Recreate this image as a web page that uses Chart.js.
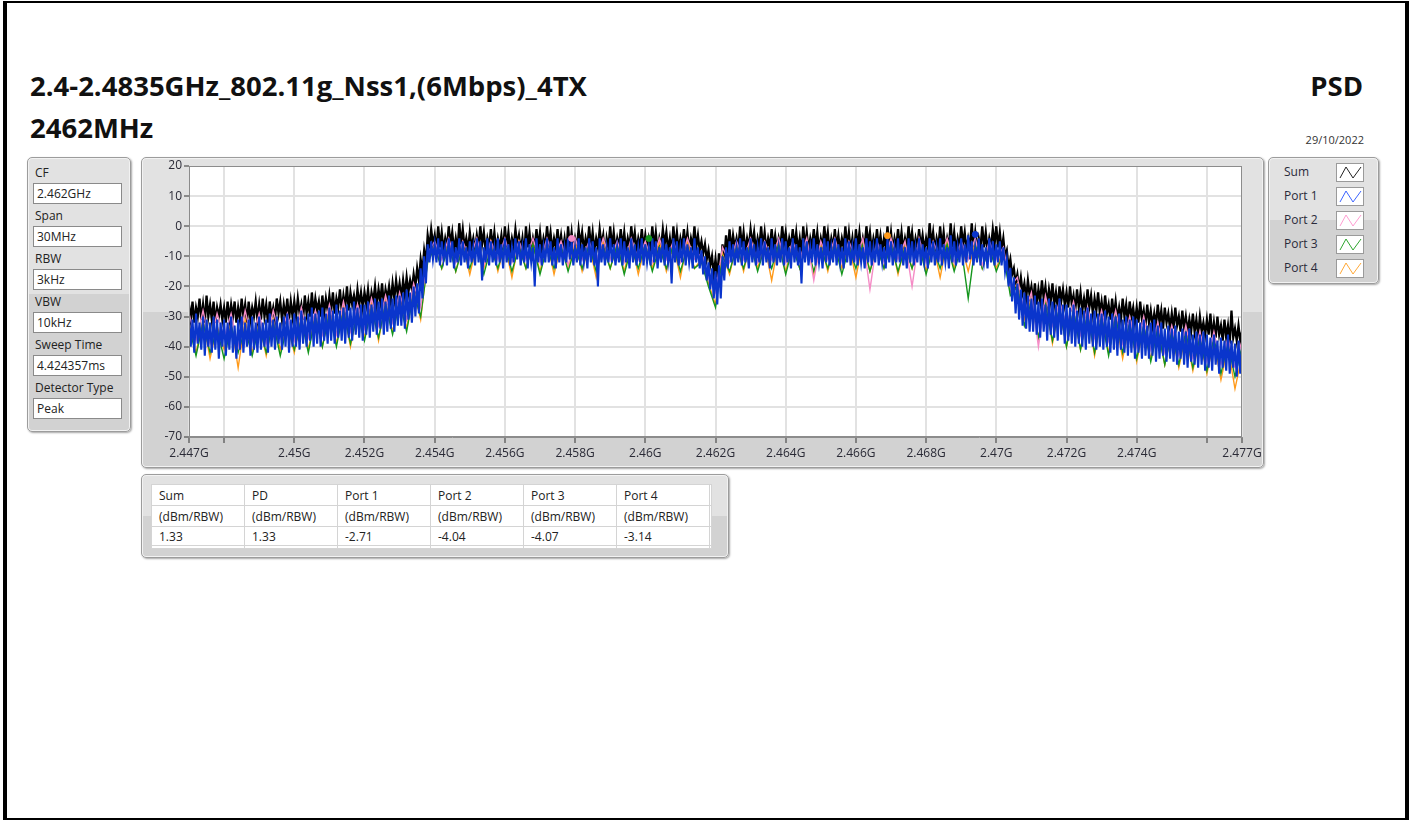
<!DOCTYPE html>
<html>
<head>
<meta charset="utf-8">
<script src="https://cdn.jsdelivr.net/npm/chart.js@4.4.0/dist/chart.umd.min.js"></script>
<style>
  html, body { margin: 0; padding: 0; background: #fff; }
  body { width: 1415px; height: 822px; position: relative; overflow: hidden;
         font-family: "Segoe UI", "Open Sans", "Noto Sans", sans-serif; color: #222; }
  .frame { position: absolute; left: 3px; top: 1px; width: 1406px; height: 819px;
           border-left: 4px solid #000; border-right: 4px solid #000;
           border-top: 2px solid #000; border-bottom: 2px solid #000; box-sizing: border-box; }
  .title { position: absolute; font-weight: bold; font-size: 27.5px; color: #111; white-space: nowrap; }
  .date { position: absolute; font-size: 11px; color: #333; }
  .panel { position: absolute; border: 1px solid #9c9c9c; border-radius: 5px;
           background: linear-gradient(#e2e2e2 0 50%, #d2d2d2 50% 100%);
           box-shadow: inset 0 0 0 1px #f2f2f2, 1px 1px 2px rgba(0,0,0,0.35); box-sizing: border-box; }
  .plabel { position: absolute; left: 7px; font-size: 12px; color: #222; height: 18px; line-height: 18px; }
  .pbox { position: absolute; left: 5px; width: 89px; height: 21px; background: #fff;
          border: 1px solid #8a8a8a; box-sizing: border-box; font-size: 12px; line-height: 19px;
          padding-left: 3px; color: #222; }
  .litem { position: absolute; left: 15px; font-size: 12px; color: #2a2a3a; height: 20px; line-height: 20px; }
  .licon { position: absolute; left: 67px; width: 28px; height: 19px; background: #fff;
           border: 1px solid #9a9a9a; box-sizing: border-box; }
  table { position: absolute; left: 9px; top: 9px; border-collapse: collapse; background: #fff;
          font-size: 12px; color: #222; border: 1px solid #a0a0a0; }
  td { border: 1px solid #d4d4d4; width: 85px; height: 20px; padding: 0 0 0 7px; white-space: nowrap; }
  tr.vals td { height: 18px; }
  td.pad { width: 1px; padding: 0; }
  #chartCanvas { position: absolute; left: 141px; top: 157px; }
</style>
</head>
<body>
<div class="frame"></div>
<div class="title" style="left:30px; top:67px;">2.4-2.4835GHz_802.11g_Nss1,(6Mbps)_4TX</div>
<div class="title" style="left:30px; top:109px;">2462MHz</div>
<div class="title" style="right:52px; top:67px;">PSD</div>
<div class="date" style="right:51px; top:132px;">29/10/2022</div>

<div class="panel" id="paramPanel" style="left:27px; top:157px; width:104px; height:275px;"></div>
<div class="panel" style="left:141px; top:157px; width:1123px; height:311px;"></div>
<div class="panel" id="legendPanel" style="left:1268px; top:157px; width:111px; height:127px;"></div>
<div class="panel" id="tablePanel" style="left:141px; top:474px; width:588px; height:84px;"></div>
<canvas id="chartCanvas" width="1122" height="310"></canvas>

<script>
// ---- measurement settings (left panel) ----
const paramNames = ["CF", "Span", "RBW", "VBW", "Sweep Time", "Detector Type"];
const paramValues = ["2.462GHz", "30MHz", "3kHz", "10kHz", "4.424357ms", "Peak"];

// ---- result table ----
const tableHeaders = ["Sum", "PD", "Port 1", "Port 2", "Port 3", "Port 4"];
const tableUnits = ["(dBm/RBW)", "(dBm/RBW)", "(dBm/RBW)", "(dBm/RBW)", "(dBm/RBW)", "(dBm/RBW)"];
const tableValues = ["1.33", "1.33", "-2.71", "-4.04", "-4.07", "-3.14"];

// ---- legend ----
const seriesNames = ["Sum", "Port 1", "Port 2", "Port 3", "Port 4"];
const seriesColors = ["#000000", "#0a35cc", "#f58cc6", "#14951c", "#ff9a1a"];
const legendIconColors = ["#222222", "#3c64ff", "#ff9ed2", "#2fa52f", "#ffa836"];

// ---- axes ----
const xTickValues = [2.447, 2.448, 2.450, 2.452, 2.454, 2.456, 2.458, 2.460, 2.462, 2.464, 2.466, 2.468, 2.470, 2.472, 2.474, 2.476, 2.477];
const xTickLabels = ["2.447G", "", "2.45G", "2.452G", "2.454G", "2.456G", "2.458G", "2.46G", "2.462G", "2.464G", "2.466G", "2.468G", "2.47G", "2.472G", "2.474G", "", "2.477G"];
const yMin = -70, yMax = 20, yStep = 10;

// ---- sweep grid ----
const sweepStartGHz = 2.447;
const fineStepGHz = 0.00005;   // Sum and Port 1 traces
const coarseStepGHz = 0.0002;  // Port 2..4 traces

// Sum trace, dBm/RBW (one row = 1 MHz)
const sumLevels = [
  -26,-31,-25,-32,-27,-30,-24,-31,-26,-32,-23,-30,-26,-31,-25,-32,-27,-30,-26,-31,
  -27,-32,-25,-31,-26,-30,-25,-32,-27,-31,-24,-30,-26,-32,-25,-31,-27,-30,-25,-31,
  -26,-31,-24,-30,-26,-32,-25,-30,-27,-31,-24,-29,-25,-31,-26,-30,-24,-31,-25,-30,
  -25,-30,-24,-29,-26,-31,-23,-29,-25,-30,-22,-29,-24,-28,-25,-30,-23,-29,-24,-28,
  -23,-28,-22,-29,-24,-27,-21,-28,-23,-27,-20,-28,-22,-26,-23,-27,-21,-26,-22,-27,
  -22,-26,-21,-27,-22,-25,-20,-26,-21,-25,-19,-26,-21,-24,-20,-25,-19,-24,-18,-23,
  -19,-24,-18,-23,-17,-22,-18,-21,-16,-20,-14,-18,-11,-15,-8,-12,-3,-7,-1,-6,
  -3,-8,0,-7,-2,-8,-4,-7,0,-6,-2,-8,-4,-8,1,-6,-1,-7,-4,-8,
  -2,-7,-4,-8,-3,-7,0,-6,-2,-8,-4,-7,-1,-7,-2,-8,-4,-7,-3,-8,
  0,-7,-2,-8,-4,-7,-1,-6,-3,-8,-4,-10,0,-7,-2,-8,-4,-7,-1,-7,
  -2,-8,-4,-7,0,-6,-2,-8,-4,-7,-1,-7,-3,-8,-4,-9,0,-7,-2,-8,
  -4,-7,-1,-6,-2,-8,-4,-7,0,-7,-2,-8,-4,-7,-1,-6,-3,-11,-4,-7,
  0,-7,-2,-8,-4,-7,-1,-7,-2,-8,-4,-7,0,-6,-2,-8,-4,-7,-1,-7,
  -3,-8,-4,-7,0,-7,-2,-8,-4,-7,-1,-6,-2,-8,-4,-9,0,-7,-2,-8,
  -4,-7,-1,-7,-2,-8,-4,-7,0,-7,-3,-8,-5,-9,-6,-11,-8,-13,-10,-16,
  -11,-17,-9,-15,-6,-11,-3,-9,-1,-8,-3,-7,-4,-8,0,-7,-2,-8,-4,-7,
  -1,-6,-2,-8,-4,-7,0,-7,-2,-8,-4,-7,-1,-7,-3,-8,-4,-7,0,-6,
  -2,-8,-4,-7,-1,-7,-2,-8,-4,-9,0,-7,-2,-8,-4,-7,-1,-7,-2,-8,
  -4,-7,0,-6,-2,-8,-4,-7,-1,-7,-3,-8,-4,-7,0,-7,-2,-8,-4,-10,
  -1,-7,-2,-8,-4,-7,0,-6,-2,-8,-4,-7,-1,-7,-3,-8,-4,-7,0,-7,
  -2,-8,-4,-7,-1,-7,-2,-8,-4,-7,0,-6,-2,-8,-4,-7,-1,-7,-3,-8,
  -4,-7,1,-6,-2,-8,-4,-7,0,-7,-2,-8,-4,-7,1,-7,-2,-8,-4,-7,
  0,-6,-2,-8,-4,-7,1,-7,-2,-8,-4,-7,0,-7,-2,-8,-4,-7,-1,-6,
  0,-7,-2,-8,-4,-10,-8,-14,-11,-16,-14,-19,-16,-21,-17,-22,-19,-24,-18,-23,
  -20,-25,-19,-26,-21,-25,-18,-24,-20,-26,-21,-25,-19,-26,-22,-27,-20,-25,-21,-26,
  -22,-27,-20,-26,-23,-28,-21,-27,-22,-28,-24,-28,-21,-27,-23,-29,-24,-28,-22,-29,
  -25,-30,-23,-29,-26,-31,-24,-30,-25,-31,-27,-31,-24,-30,-26,-32,-25,-30,-27,-32,
  -27,-32,-25,-31,-28,-33,-26,-32,-28,-33,-29,-33,-26,-32,-28,-34,-27,-32,-29,-34,
  -29,-34,-27,-33,-30,-35,-28,-34,-30,-35,-31,-35,-29,-35,-31,-36,-30,-35,-32,-36,
  -31,-36,-29,-37,-32,-37,-30,-36,-33,-38,-31,-37,-33,-39,-28,-37,-34,-38,-33,-38,
  -35
];

// Port 1 trace
const port1Levels = [
  -30,-40,-31,-42,-29,-39,-32,-41,-30,-43,-31,-40,-32,-42,-30,-41,-31,-44,-32,-40,
  -31,-43,-32,-41,-30,-42,-33,-44,-31,-41,-30,-42,-32,-40,-31,-43,-30,-41,-32,-42,
  -30,-41,-32,-40,-31,-42,-29,-40,-31,-41,-30,-39,-32,-41,-30,-40,-29,-42,-31,-40,
  -29,-40,-30,-41,-28,-39,-30,-40,-29,-38,-27,-40,-29,-39,-28,-40,-27,-38,-29,-39,
  -27,-38,-28,-39,-26,-37,-28,-38,-27,-39,-26,-37,-27,-38,-25,-36,-27,-37,-26,-38,
  -26,-36,-25,-37,-26,-35,-24,-36,-25,-34,-24,-36,-25,-35,-23,-34,-24,-35,-23,-33,
  -23,-33,-22,-34,-21,-31,-22,-32,-20,-30,-19,-29,-14,-24,-10,-19,-6,-12,-5,-11,
  -6,-12,-4,-13,-5,-11,-7,-13,-4,-12,-5,-14,-7,-12,-4,-13,-5,-12,-7,-14,
  -5,-12,-7,-13,-4,-12,-5,-18,-7,-12,-4,-13,-5,-12,-7,-13,-4,-12,-6,-14,
  -4,-12,-6,-13,-7,-12,-4,-11,-5,-13,-7,-12,-4,-14,-6,-12,-7,-20,-4,-12,
  -6,-13,-7,-12,-4,-12,-5,-13,-7,-14,-4,-12,-6,-13,-7,-12,-4,-11,-5,-13,
  -7,-12,-4,-13,-6,-12,-7,-14,-4,-12,-5,-13,-7,-20,-4,-12,-6,-13,-7,-12,
  -4,-12,-6,-13,-7,-12,-4,-13,-5,-12,-7,-14,-4,-12,-6,-13,-7,-12,-4,-13,
  -6,-12,-7,-13,-4,-12,-5,-14,-7,-12,-4,-13,-6,-12,-7,-19,-4,-12,-5,-13,
  -7,-12,-4,-13,-6,-12,-7,-14,-4,-12,-7,-14,-8,-16,-10,-18,-12,-21,-14,-24,
  -15,-26,-13,-24,-10,-18,-7,-14,-5,-12,-6,-13,-7,-12,-4,-13,-5,-12,-7,-14,
  -4,-12,-6,-13,-7,-12,-4,-13,-5,-12,-7,-14,-4,-12,-6,-13,-7,-12,-4,-13,
  -5,-12,-7,-14,-4,-12,-6,-13,-7,-19,-4,-12,-5,-13,-7,-12,-4,-13,-6,-12,
  -7,-14,-4,-12,-5,-13,-7,-12,-4,-13,-6,-12,-7,-14,-4,-12,-5,-13,-7,-12,
  -4,-13,-6,-12,-7,-14,-4,-12,-5,-13,-7,-12,-4,-13,-6,-12,-7,-14,-4,-12,
  -5,-13,-7,-12,-4,-12,-6,-13,-7,-14,-4,-12,-5,-13,-7,-12,-4,-13,-6,-12,
  -7,-14,-4,-12,-5,-13,-7,-12,-4,-13,-6,-12,-7,-14,-3,-12,-5,-13,-7,-12,
  -4,-13,-6,-12,-3,-11,-5,-13,-7,-12,-4,-13,-6,-12,-7,-14,-4,-12,-5,-13,
  -6,-12,-5,-13,-7,-15,-11,-20,-14,-25,-17,-29,-19,-31,-21,-33,-22,-34,-23,-35,
  -24,-35,-23,-36,-25,-37,-24,-35,-26,-38,-24,-36,-25,-37,-26,-38,-24,-36,-26,-39,
  -26,-38,-27,-39,-26,-40,-28,-39,-27,-40,-28,-41,-27,-39,-29,-40,-28,-41,-29,-40,
  -29,-41,-28,-40,-30,-42,-29,-41,-30,-43,-29,-41,-31,-42,-30,-43,-31,-42,-30,-44,
  -31,-42,-32,-44,-31,-43,-33,-44,-32,-43,-31,-45,-33,-44,-32,-43,-34,-45,-33,-44,
  -34,-45,-33,-46,-35,-44,-34,-46,-35,-47,-34,-45,-36,-46,-35,-47,-36,-46,-35,-48,
  -36,-47,-37,-48,-36,-46,-38,-49,-37,-47,-38,-48,-36,-49,-38,-47,-39,-50,-38,-49,
  -40
];

// Port 2..4 traces (one row = 1 MHz)
const port2Levels = [
  -29,-38,-28,-39,-29, -37,-29,-40,-28,-38, -29,-39,-28,-37,-29, -38,-27,-37,-28,-36,
  -26,-36,-25,-35,-26, -34,-24,-33,-23,-32, -22,-31,-19,-27,-9,  -5,-11,-4,-12,-5,
  -11,-4,-13,-5,-11,   -4,-12,-5,-11,-4,    -12,-4,-11,-5,-13,   -4,-11,-5,-12,-4,
  -11,-5,-12,-4,-11,   -5,-12,-4,-11,-5,    -12,-4,-11,-9,-17,   -22,-7,-12,-5,-11,
  -4,-12,-5,-11,-4,    -12,-5,-11,-4,-18,   -5,-11,-4,-12,-5,    -11,-4,-21,-5,-12,
  -4,-11,-5,-20,-4,    -12,-5,-11,-4,-12,   -5,-11,-4,-13,-5,    -11,-7,-20,-17,-29,
  -22,-40,-23,-33,-25, -33,-25,-36,-27,-37, -28,-38,-28,-39,-30, -40,-30,-41,-32,-42,
  -33,-43,-33,-44,-35, -45,-35,-46,-37,-47, -38
];
const port3Levels = [
  -33,-43,-32,-42,-34, -44,-33,-42,-34,-43, -33,-42,-32,-43,-33, -41,-31,-42,-30,-40,
  -29,-40,-28,-39,-29, -38,-27,-37,-26,-36, -25,-35,-22,-30,-12, -7,-14,-6,-15,-7,
  -14,-6,-16,-7,-14,   -6,-15,-7,-14,-6,    -16,-7,-14,-6,-15,   -7,-14,-6,-15,-7,
  -14,-6,-16,-7,-14,   -6,-15,-7,-14,-6,    -15,-7,-14,-12,-20,  -27,-10,-15,-7,-14,
  -6,-15,-7,-14,-6,    -16,-7,-14,-6,-15,   -7,-14,-6,-16,-7,    -14,-6,-15,-7,-14,
  -6,-15,-7,-14,-6,    -16,-7,-14,-6,-15,   -7,-24,-6,-14,-7,    -15,-9,-23,-20,-33,
  -25,-37,-26,-38,-27, -40,-28,-41,-29,-42, -30,-43,-30,-42,-32, -44,-33,-45,-34,-46,
  -35,-46,-35,-47,-37, -48,-37,-49,-39,-50, -40
];
const port4Levels = [
  -32,-42,-31,-44,-33, -41,-32,-47,-31,-42, -32,-43,-31,-41,-33, -42,-30,-41,-29,-40,
  -28,-39,-27,-40,-28, -37,-26,-38,-25,-35, -24,-34,-21,-31,-11, -6,-14,-5,-15,-6,
  -16,-6,-14,-5,-15,   -6,-17,-5,-14,-6,    -15,-5,-16,-6,-14,   -5,-15,-6,-17,-5,
  -14,-6,-15,-5,-16,   -6,-14,-5,-15,-6,    -17,-5,-14,-11,-19,  -26,-9,-16,-6,-15,
  -5,-14,-6,-18,-5,    -15,-6,-14,-5,-16,   -6,-15,-5,-14,-6,    -17,-5,-15,-6,-14,
  -5,-16,-6,-14,-5,    -15,-6,-17,-5,-14,   -6,-15,-5,-14,-6,    -14,-8,-22,-19,-31,
  -24,-37,-25,-39,-27, -40,-28,-41,-29,-43, -30,-42,-31,-44,-32, -45,-33,-44,-34,-46,
  -35,-47,-36,-48,-37, -49,-38,-51,-40,-54, -43
];

// peak markers of ports 2,3,1,4
const markerFreqs = [2.4579, 2.4601, 2.4694, 2.4669];
const markerLevels = [-4.04, -4.07, -2.71, -3.14];
const markerColors = ["#f58cc6", "#14951c", "#0a35cc", "#ff9a1a"];

// ---------- build page widgets ----------
const paramPanel = document.getElementById("paramPanel");
for (let i = 0; i < paramNames.length; i++) {
  const lab = document.createElement("div");
  lab.className = "plabel";
  lab.style.top = (6 + i * 43) + "px";
  lab.textContent = paramNames[i];
  paramPanel.appendChild(lab);
  const box = document.createElement("div");
  box.className = "pbox";
  box.style.top = (25 + i * 43) + "px";
  box.textContent = paramValues[i];
  paramPanel.appendChild(box);
}

const legendPanel = document.getElementById("legendPanel");
for (let i = 0; i < seriesNames.length; i++) {
  const lab = document.createElement("div");
  lab.className = "litem";
  lab.style.top = (4 + i * 24) + "px";
  lab.textContent = seriesNames[i];
  legendPanel.appendChild(lab);
  const icon = document.createElement("div");
  icon.className = "licon";
  icon.style.top = (5 + i * 24) + "px";
  icon.innerHTML = '<svg width="26" height="17"><polyline points="3,14 9,3 16,14 24,3" fill="none" stroke="' +
    legendIconColors[i] + '" stroke-width="1"/></svg>';
  legendPanel.appendChild(icon);
}

const tablePanel = document.getElementById("tablePanel");
const table = document.createElement("table");
[tableHeaders, tableUnits, tableValues].forEach((row, r) => {
  const tr = document.createElement("tr");
  if (r === 2) tr.className = "vals";
  row.forEach((txt) => {
    const td = document.createElement("td");
    td.textContent = txt;
    tr.appendChild(td);
  });
  const pad = document.createElement("td");
  pad.className = "pad";
  tr.appendChild(pad);
  table.appendChild(tr);
});
const lastRow = document.createElement("tr");
for (let i = 0; i < 7; i++) {
  const td = document.createElement("td");
  td.style.height = "2px";
  if (i === 6) td.className = "pad";
  lastRow.appendChild(td);
}
table.appendChild(lastRow);
tablePanel.appendChild(table);

// ---------- chart ----------
function toPoints(levels, step) {
  return levels.map((v, i) => ({ x: sweepStartGHz + i * step, y: v }));
}

const plotBackground = {
  id: "plotBackground",
  beforeDraw(chart) {
    const a = chart.chartArea;
    chart.ctx.save();
    chart.ctx.fillStyle = "#ffffff";
    chart.ctx.fillRect(a.left, a.top, a.right - a.left, a.bottom - a.top);
    chart.ctx.restore();
  },
  afterDraw(chart) {
    const a = chart.chartArea;
    chart.ctx.save();
    chart.ctx.strokeStyle = "#8c8c8c";
    chart.ctx.lineWidth = 1;
    chart.ctx.strokeRect(a.left + 0.5, a.top + 0.5, a.right - a.left - 1, a.bottom - a.top - 1);
    chart.ctx.restore();
  }
};

const traceSets = [
  { levels: sumLevels, step: fineStepGHz, width: 2.3, order: 5 },
  { levels: port1Levels, step: fineStepGHz, width: 2.1, order: 1 },
  { levels: port2Levels, step: coarseStepGHz, width: 1.4, order: 2 },
  { levels: port3Levels, step: coarseStepGHz, width: 1.4, order: 3 },
  { levels: port4Levels, step: coarseStepGHz, width: 1.4, order: 4 }
];

const datasets = traceSets.map((t, i) => ({
  label: seriesNames[i],
  data: toPoints(t.levels, t.step),
  borderColor: seriesColors[i],
  borderWidth: t.width,
  pointRadius: 0,
  tension: 0,
  order: t.order
}));

datasets.push({
  label: "markers",
  type: "scatter",
  data: markerFreqs.map((f, i) => ({ x: f, y: markerLevels[i] })),
  pointBackgroundColor: markerColors,
  pointBorderColor: markerColors,
  pointRadius: 3,
  showLine: false,
  order: 0
});

const tickFont = { family: '"Segoe UI", "Open Sans", "Noto Sans", sans-serif', size: 12 };

new Chart(document.getElementById("chartCanvas").getContext("2d"), {
  type: "line",
  data: { datasets: datasets },
  options: {
    responsive: false,
    animation: false,
    events: [],
    parsing: false,
    layout: { padding: { top: 9, right: 21, left: 0, bottom: 0 } },
    plugins: { legend: { display: false }, tooltip: { enabled: false } },
    scales: {
      x: {
        type: "linear",
        min: xTickValues[0],
        max: xTickValues[xTickValues.length - 1],
        afterBuildTicks: (scale) => {
          scale.ticks = xTickValues.map((v) => ({ value: v }));
        },
        afterFit: (scale) => {
          scale.height = 30;
          scale.paddingLeft = 0;
          scale.paddingRight = 0;
        },
        ticks: {
          autoSkip: false,
          maxRotation: 0,
          padding: 3,
          color: "#2a2a36",
          font: tickFont,
          callback: (value, index) => xTickLabels[index]
        },
        grid: { color: "#e2e2e2", lineWidth: 2, tickColor: "#333", tickLength: 6, tickWidth: 1 },
        border: { display: true, color: "#8c8c8c" }
      },
      y: {
        min: yMin,
        max: yMax,
        afterFit: (scale) => {
          scale.width = 48;
          scale.paddingTop = 0;
          scale.paddingBottom = 0;
        },
        ticks: { stepSize: yStep, padding: 2, color: "#2a2a36", font: tickFont },
        grid: { color: "#e2e2e2", lineWidth: 2, tickColor: "#333", tickLength: 5, tickWidth: 1 },
        border: { display: true, color: "#8c8c8c" }
      }
    }
  },
  plugins: [plotBackground]
});
</script>
</body>
</html>
